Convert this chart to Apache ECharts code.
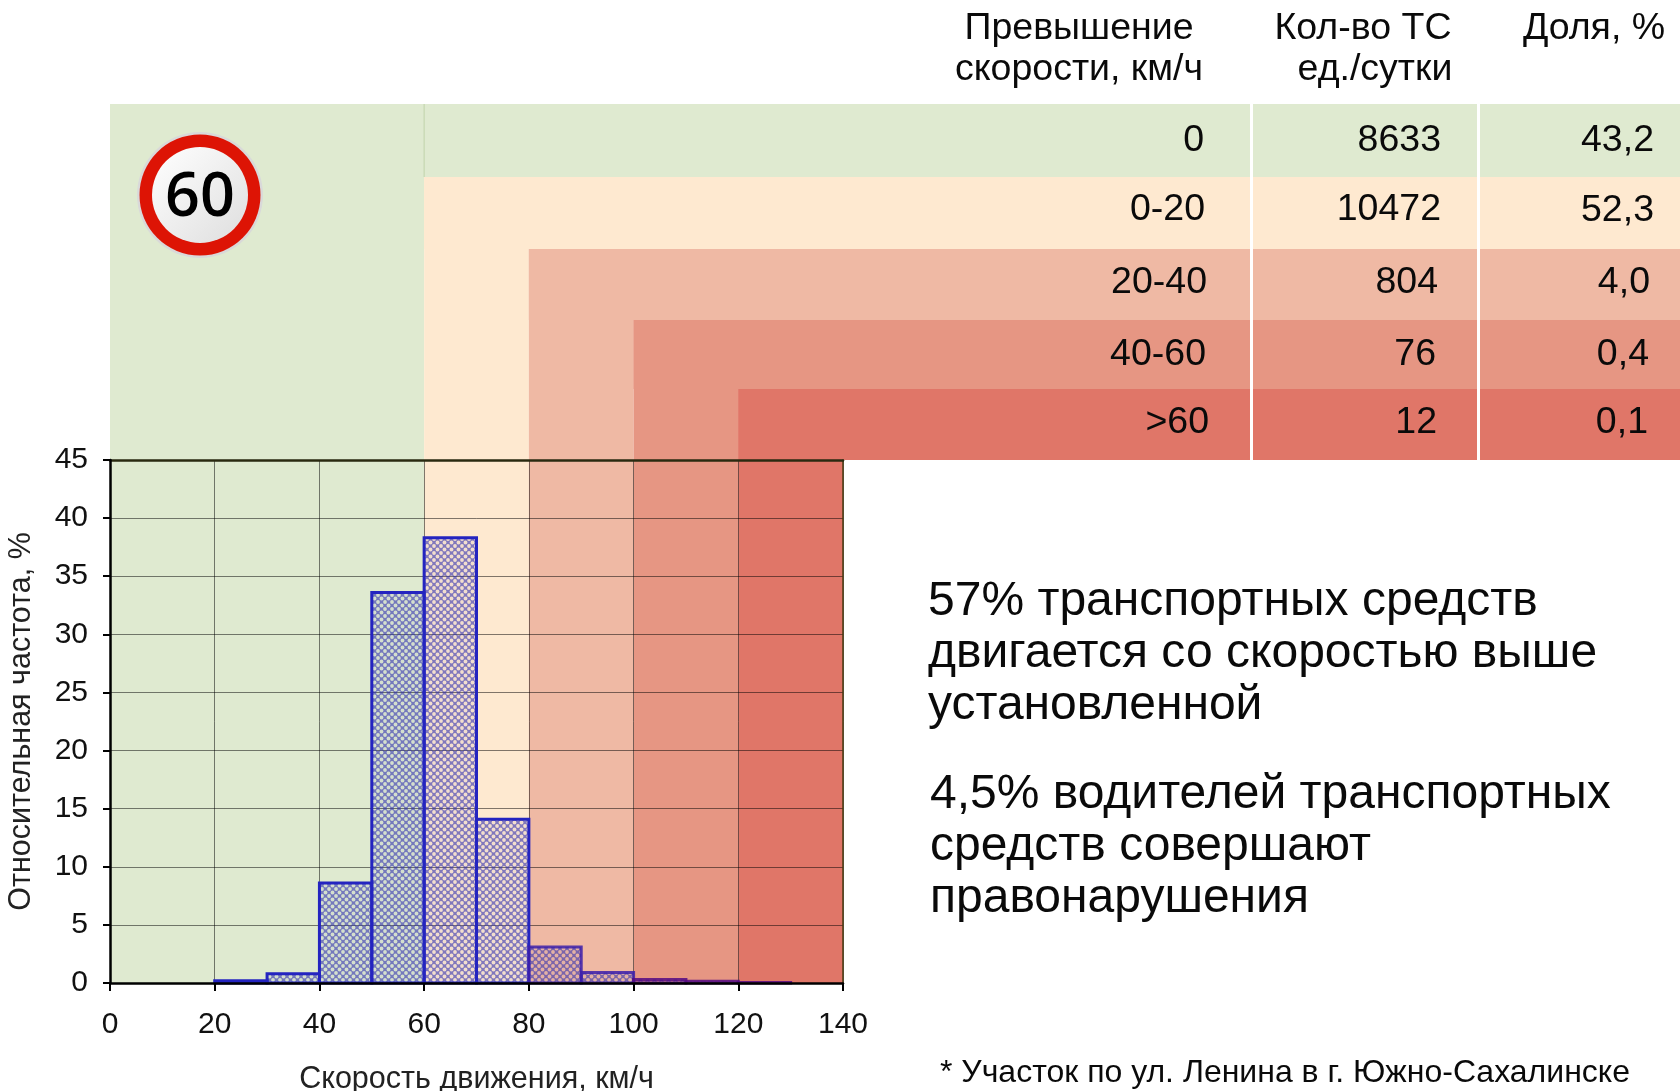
<!DOCTYPE html>
<html lang="ru">
<head>
<meta charset="utf-8">
<title>Скорость движения</title>
<style>html,body{margin:0;padding:0;background:#fff}#c{width:1680px;height:1091px}</style>
<script src="https://cdn.jsdelivr.net/npm/echarts@6/dist/echarts.min.js"></script>
</head>
<body>
<div id="c"></div>
<script>
// ---- data ----
const binStart = [20, 30, 40, 50, 60, 70, 80, 90, 100, 110, 120];
const binEnd = [30, 40, 50, 60, 70, 80, 90, 100, 110, 120, 130];
const frequency = [0.2, 0.8, 8.6, 33.6, 38.3, 14.1, 3.1, 0.9, 0.3, 0.15, 0.05];
const zoneStart = [0, 60, 80, 100, 120];
const zoneEnd = [60, 80, 100, 120, 140];
const excess = ['0', '0-20', '20-40', '40-60', '>60'];
const vehicles = ['8633', '10472', '804', '76', '12'];
const share = ['43,2', '52,3', '4,0', '0,4', '0,1'];
const headers = ['Превышение', 'скорости, км/ч', 'Кол-во ТС', 'ед./сутки', 'Доля, %'];
const para1 = ['57% транспортных средств', 'двигается со скоростью выше', 'установленной'];
const para2 = ['4,5% водителей транспортных', 'средств совершают', 'правонарушения'];
const footnote = '* Участок по ул. Ленина в г. Южно-Сахалинске';
const xTitle = 'Скорость движения, км/ч';
const yTitle = 'Относительная частота, %';

// ---- layout and style ----
const FONT = '"Liberation Sans", Arial, sans-serif';
const W = 1680;
const zoneColors = ['#DFEAD0', '#FEE9D0', '#EFB9A4', '#E69683', '#E07668'];
const rowTop = [104, 177, 249, 320, 389];
const rowBottom = [177, 249, 320, 389, 460];
const rowY = [141, 210, 283, 355, 423];
const col1Right = [1204, 1205, 1207, 1206, 1209];
const col2Right = [1441, 1441, 1438, 1436, 1437];
const col3Right = [1654, 1654, 1650, 1649, 1648];

function hatch() {
  const c = document.createElement('canvas');
  c.width = 7; c.height = 7;
  const g = c.getContext('2d');
  g.fillStyle = 'rgba(45,45,175,0.6)';
  g.fillRect(0, 0, 7, 7);
  g.globalCompositeOperation = 'destination-out';
  g.fillStyle = 'rgba(0,0,0,0.9)';
  [[0,0],[7,0],[0,7],[7,7],[3.5,3.5]].forEach(p => {
    g.beginPath(); g.arc(p[0], p[1], 1.9, 0, Math.PI * 2); g.fill();
  });
  return c;
}
const hatchCanvas = hatch();

const bandData = zoneStart.map((s, i) => [s, zoneEnd[i], i]);
const barData = binStart.map((s, i) => [s, binEnd[i], frequency[i]]);

function renderBand(params, api) {
  const i = api.value(2);
  const left = api.coord([api.value(0), 0]);
  const right = api.coord([api.value(1), 0]);
  const fill = { fill: zoneColors[i] };
  const kids = [
    { type: 'rect', shape: { x: left[0], y: rowTop[i], width: right[0] - left[0], height: left[1] - rowTop[i] }, style: fill },
  ];
  const rowX = i === 0 ? right[0] : left[0];
  kids.push({ type: 'rect', shape: { x: rowX, y: rowTop[i], width: W - rowX, height: rowBottom[i] - rowTop[i] }, style: fill });
  if (i === 0) {
    kids.push({ type: 'line', shape: { x1: right[0], y1: rowTop[0], x2: right[0], y2: rowBottom[0] }, style: { stroke: '#BFD3A8', lineWidth: 1 } });
  }
  return { type: 'group', children: kids };
}

function renderBar(params, api) {
  const a = api.coord([api.value(0), api.value(2)]);
  const b = api.coord([api.value(1), 0]);
  return {
    type: 'rect',
    shape: { x: a[0], y: a[1], width: b[0] - a[0], height: b[1] - a[1] },
    style: {
      fill: { image: hatchCanvas, repeat: 'repeat' },
      stroke: api.value(0) >= 100 ? 'rgba(85,10,130,0.85)' : api.value(0) >= 80 ? 'rgba(60,30,170,0.85)' : '#2424C0',
      lineWidth: 3
    }
  };
}

function txt(text, x, y, size, align) {
  return { type: 'text', z: 10, style: { text, x, y, fill: '#0a0a0a', font: size + 'px ' + FONT, textAlign: align, textVerticalAlign: 'middle' } };
}

const graphics = [];
// white column separators
[1251.5, 1478.5].forEach(x => graphics.push({ type: 'rect', z: 9, shape: { x: x - 1.5, y: 104, width: 3, height: 356 }, style: { fill: '#fff' } }));
// table header
graphics.push(txt(headers[0], 1079, 29, 37.5, 'center'));
graphics.push(txt(headers[1], 1079, 70, 37.5, 'center'));
graphics.push(txt(headers[2], 1363, 29, 37.5, 'center'));
graphics.push(txt(headers[3], 1375, 70, 37.5, 'center'));
graphics.push(txt(headers[4], 1594, 29, 37.5, 'center'));
// table body
excess.forEach((t, i) => {
  graphics.push(txt(t, col1Right[i], rowY[i], 37.5, 'right'));
  graphics.push(txt(vehicles[i], col2Right[i], rowY[i], 37.5, 'right'));
  graphics.push(txt(share[i], col3Right[i], rowY[i] + (i === 1 ? 1 : 0), 37.5, 'right'));
});
// commentary
para1.forEach((t, i) => graphics.push(txt(t, 928, [602, 654, 706][i], 48, 'left')));
para2.forEach((t, i) => graphics.push(txt(t, 930, [795, 847, 899][i], 48, 'left')));
graphics.push(txt(footnote, 940, 1073, 32, 'left'));
// speed limit sign
graphics.push({ type: 'circle', z: 10, shape: { cx: 200, cy: 195, r: 63 }, style: { fill: '#D9D9D9' } });
graphics.push({ type: 'circle', z: 11, shape: { cx: 200, cy: 195, r: 60.5 }, style: { fill: '#DD1405' } });
graphics.push({ type: 'circle', z: 12, shape: { cx: 200, cy: 195, r: 48 }, style: {
  fill: new echarts.graphic.LinearGradient(0, 0, 1, 1, [{ offset: 0, color: '#FFFFFF' }, { offset: 1, color: '#DEDEDE' }]) } });
graphics.push({ type: 'text', z: 13, style: { text: '60', x: 200, y: 199, fill: '#000', font: '600 61px "Open Sans", sans-serif', textAlign: 'center', textVerticalAlign: 'middle' } });

const labelStyle = { fontFamily: FONT, fontSize: 30, color: '#111' };
const chart = echarts.init(document.getElementById('c'), null, { renderer: 'canvas' });
chart.setOption({
  animation: false,
  backgroundColor: '#fff',
  grid: { left: 110, top: 460, width: 733, height: 523, containLabel: false, outerBoundsMode: 'none' },
  xAxis: [
    { type: 'value', min: 0, max: 140, interval: 20, position: 'bottom', z: 5,
      axisLine: { show: true, onZero: false, lineStyle: { color: '#000', width: 2.5 } },
      axisTick: { show: true, length: 8, lineStyle: { color: '#000', width: 2 } },
      axisLabel: { ...labelStyle, margin: 27 },
      splitLine: { show: false },
      name: xTitle, nameLocation: 'middle', nameGap: 81,
      nameTextStyle: { fontFamily: FONT, fontSize: 30.5, color: '#222' } },
    { type: 'value', min: 0, max: 140, interval: 20, position: 'top', z: 0,
      axisLine: { show: true, onZero: false, lineStyle: { color: '#2a2a10', width: 2.5 } },
      axisTick: { show: false }, axisLabel: { show: false },
      splitLine: { show: true, lineStyle: { color: 'rgba(0,0,0,0.5)', width: 1 } } }
  ],
  yAxis: [
    { type: 'value', min: 0, max: 45, interval: 5, position: 'left', z: 5,
      axisLine: { show: true, onZero: false, lineStyle: { color: '#000', width: 2.5 } },
      axisTick: { show: true, length: 7, lineStyle: { color: '#000', width: 2 } },
      axisLabel: { ...labelStyle, margin: 22, padding: [4, 0, 0, 0] },
      splitLine: { show: false },
      name: yTitle, nameLocation: 'middle', nameRotate: 90, nameGap: 73,
      nameTextStyle: { fontFamily: FONT, fontSize: 30.5, color: '#222' } },
    { type: 'value', min: 0, max: 45, interval: 5, position: 'right', z: 0,
      axisLine: { show: true, onZero: false, lineStyle: { color: '#4a3a10', width: 1.5 } },
      axisTick: { show: false }, axisLabel: { show: false },
      splitLine: { show: true, lineStyle: { color: 'rgba(0,0,0,0.5)', width: 1 } } }
  ],
  series: [
    { type: 'custom', name: 'zones', z: -1, silent: true, clip: false, data: bandData,
      encode: { x: [0, 1], y: 2 }, renderItem: renderBand },
    { type: 'custom', name: 'frequency', z: 2, silent: true, clip: false, data: barData,
      encode: { x: [0, 1], y: 2 }, renderItem: renderBar }
  ],
  graphic: { elements: graphics }
});
</script>
</body>
</html>
